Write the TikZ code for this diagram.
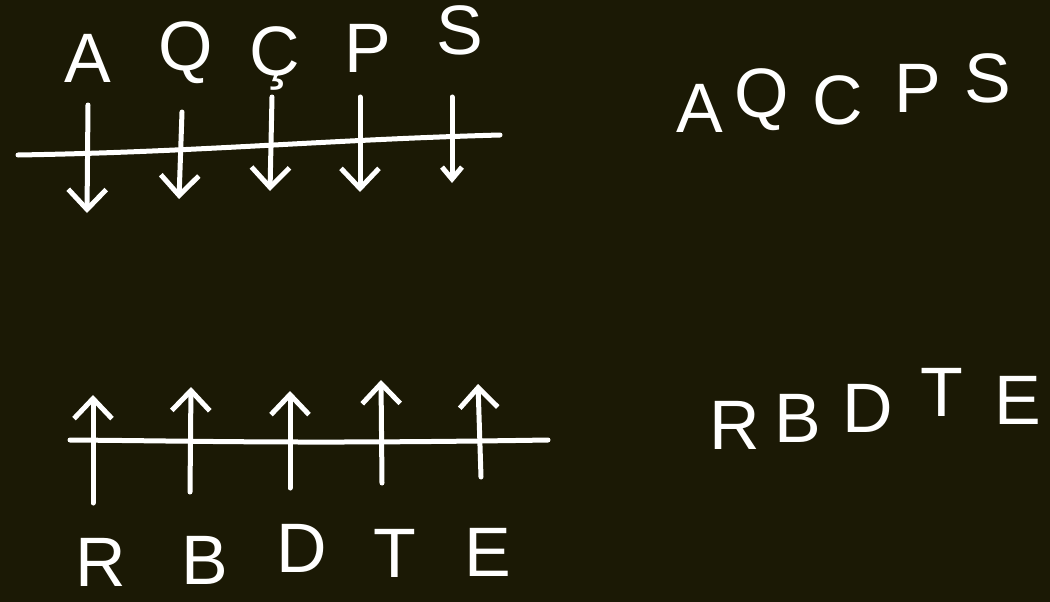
\documentclass[tikz,border=0pt]{standalone}
\usepackage{fontspec}
\setmainfont{Liberation Sans}
\usetikzlibrary{arrows.meta}
\definecolor{bg}{RGB}{27,25,5}
\begin{document}
\begin{tikzpicture}[x=1pt,y=-1pt,
  ink/.style={draw=white,line width=5pt,line cap=round,line join=round},
  arr/.style={ink,-{Straight Barb[length=20pt,width=38pt,line width=5pt]}},
  lbl/.style={text=white,inner sep=0pt,font=\fontsize{70}{70}\selectfont}]
\fill[bg] (0,0) rectangle (1050,602);
\useasboundingbox (0,0) rectangle (1050,602);
% top axis
\coordinate (tl0) at (18,155);
\coordinate (tl1) at (500,135);
\draw[ink] (tl0) .. controls (200,152) and (320,140) .. (tl1);
% top labels
\node[lbl] (A1) at (88,58) {A};
\node[lbl] (Q1) at (186,53) {Q};
\node[lbl] (C1) at (275,58) {Ç};
\node[lbl] (P1) at (368,48) {P};
\node[lbl] (S1) at (460,30) {S};
% top arrows
\coordinate (a1s) at (88,105); \coordinate (a1e) at (87,213);
\coordinate (a2s) at (182,112); \coordinate (a2e) at (179,199);
\coordinate (a3s) at (272,97); \coordinate (a3e) at (270,191);
\coordinate (a4s) at (360,97); \coordinate (a4e) at (360,192);
\coordinate (a5s) at (452,97); \coordinate (a5e) at (452,183);
\draw[arr] (a1s) -- (a1e);
\draw[arr] (a2s) -- (a2e);
\draw[arr] (a3s) -- (a3e);
\draw[arr] (a4s) -- (a4e);
\draw[ink,-{Straight Barb[length=12pt,width=20pt,line width=5pt]}] (a5s) -- (a5e);
% right top word
\node[lbl] (A2) at (700,108) {A};
\node[lbl] (Q2) at (762,100) {Q};
\node[lbl] (C2) at (838,100) {C};
\node[lbl] (P2) at (918,88) {P};
\node[lbl] (S2) at (988,78) {S};
% bottom axis
\coordinate (bl0) at (70,440);
\coordinate (bl1) at (548,440);
\draw[ink] (bl0) .. controls (200,441) and (300,444) .. (bl1);
% bottom arrows
\coordinate (b1s) at (93,503); \coordinate (b1e) at (93,395);
\coordinate (b2s) at (190,492); \coordinate (b2e) at (191,387);
\coordinate (b3s) at (290,488); \coordinate (b3e) at (290,391);
\coordinate (b4s) at (382,483); \coordinate (b4e) at (381,380);
\coordinate (b5s) at (481,477); \coordinate (b5e) at (478,384);
\draw[arr] (b1s) -- (b1e);
\draw[arr] (b2s) -- (b2e);
\draw[arr] (b3s) -- (b3e);
\draw[arr] (b4s) -- (b4e);
\draw[arr] (b5s) -- (b5e);
% bottom labels
\node[lbl] (R1) at (101,562) {R};
\node[lbl] (B1) at (205,560) {B};
\node[lbl] (D1) at (302,548) {D};
\node[lbl] (T1) at (395,553) {T};
\node[lbl] (E1) at (488,552) {E};
% right bottom word
\node[lbl] (R2) at (735,425) {R};
\node[lbl] (B2) at (798,418) {B};
\node[lbl] (D2) at (868,408) {D};
\node[lbl] (T2) at (942,392) {T};
\node[lbl] (E2) at (1018,400) {E};
\end{tikzpicture}
\end{document}
